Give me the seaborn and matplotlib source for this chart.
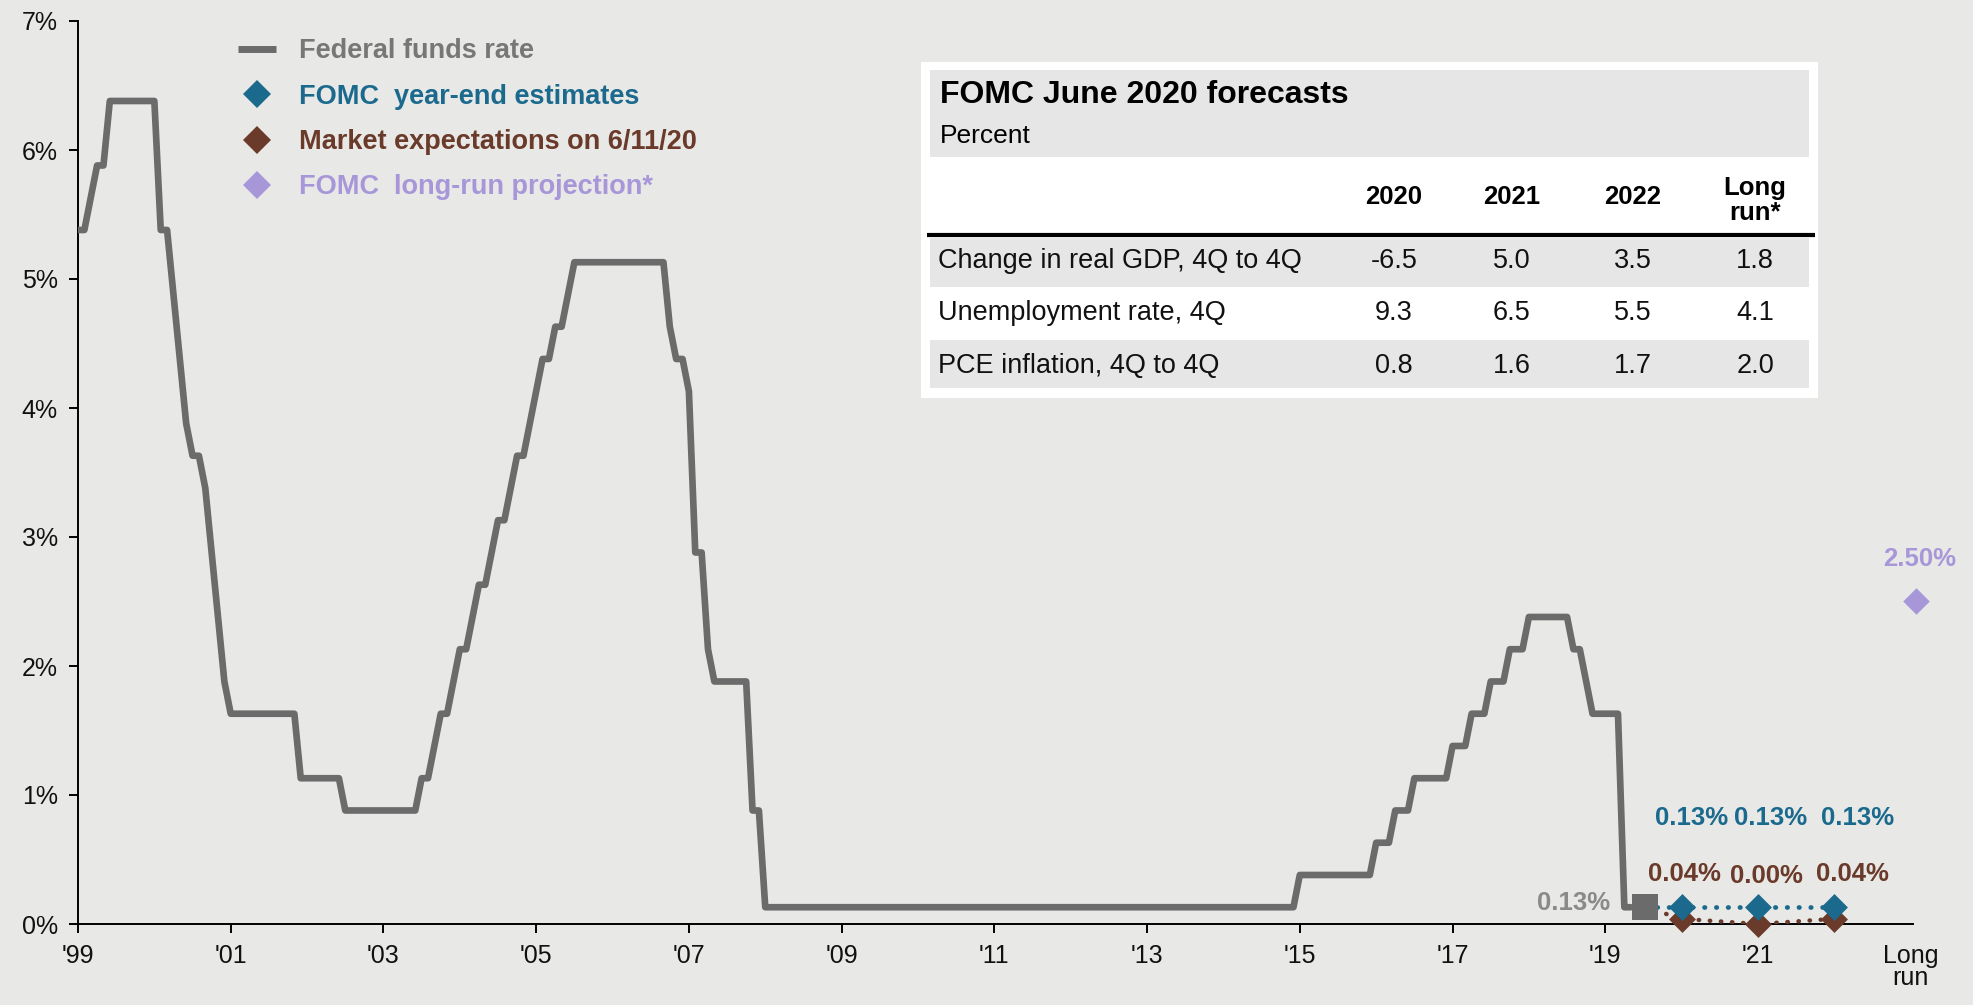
import numpy as np
import pandas as pd
import matplotlib
matplotlib.use("Agg")
import matplotlib.pyplot as plt
from matplotlib.lines import Line2D
from matplotlib.patches import Rectangle
import seaborn as sns

# ---------------- data ----------------
# Federal funds rate: month index on the chart axis (0 = Jan of '99 tick) where a new level starts
ffr_change_month = [0, 2, 3, 5, 13, 15, 16, 17, 18, 20, 21, 22, 23, 24, 35, 42,
                    54, 56, 57, 59, 60, 62, 63, 65, 66, 68, 69, 71, 72, 73, 75, 77, 78,
                    93, 94, 96, 97, 99, 100, 106, 108,
                    192, 204, 207, 210, 216, 219, 222, 225, 228, 235, 237, 238, 243]
ffr_level = [5.38, 5.63, 5.88, 6.38, 5.38, 4.88, 4.38, 3.88, 3.63, 3.38, 2.88, 2.38, 1.88, 1.63, 1.13, 0.88,
             1.13, 1.38, 1.63, 1.88, 2.13, 2.38, 2.63, 2.88, 3.13, 3.38, 3.63, 3.88, 4.13, 4.38, 4.63, 4.88, 5.13,
             4.63, 4.38, 4.13, 2.88, 2.13, 1.88, 0.88, 0.13,
             0.38, 0.63, 0.88, 1.13, 1.38, 1.63, 1.88, 2.13, 2.38, 2.13, 1.88, 1.63, 0.13]
ffr_end_month = 245

current_x = 2019.52
current_rate = 0.13
proj_years = [2020.0, 2021.0, 2022.0]
fomc_estimates = [0.13, 0.13, 0.13]
market_expect = [0.04, 0.00, 0.04]
longrun_x = 2023.07
longrun_value = 2.50

fomc_labels = ["0.13%", "0.13%", "0.13%"]
market_labels = ["0.04%", "0.00%", "0.04%"]
current_label = "0.13%"
longrun_label = "2.50%"

xtick_years = [1999, 2001, 2003, 2005, 2007, 2009, 2011, 2013, 2015, 2017, 2019, 2021, 2023]
xtick_labels = ["'99", "'01", "'03", "'05", "'07", "'09", "'11", "'13", "'15", "'17", "'19", "'21", "Long\nrun"]
ytick_values = [0, 1, 2, 3, 4, 5, 6, 7]
ytick_labels = ["0%", "1%", "2%", "3%", "4%", "5%", "6%", "7%"]

legend_labels = ["Federal funds rate", "FOMC  year-end estimates",
                 "Market expectations on 6/11/20", "FOMC  long-run projection*"]

table_title = "FOMC June 2020 forecasts"
table_subtitle = "Percent"
table_columns = ["2020", "2021", "2022", "Long\nrun*"]
table_rows = ["Change in real GDP, 4Q to 4Q", "Unemployment rate, 4Q", "PCE inflation, 4Q to 4Q"]
table_values = [["-6.5", "5.0", "3.5", "1.8"],
                ["9.3", "6.5", "5.5", "4.1"],
                ["0.8", "1.6", "1.7", "2.0"]]

# ---------------- style ----------------
BG = "#e8e8e6"
GRAY = "#6b6b6b"
BLUE = "#1b6a8e"
BROWN = "#6a3a2a"
LAV = "#a797d9"
LBL_GRAY = "#8a8a8a"

sns.set_theme(style="white")
plt.rcParams["font.family"] = ["Liberation Sans", "DejaVu Sans"]

W, H = 1974, 1005
fig = plt.figure(figsize=(W / 100, H / 100), dpi=100, facecolor=BG)
ax = fig.add_axes([78 / W, 1 - 924 / H, (1913 - 78) / W, (924 - 21) / H])
ax.set_facecolor(BG)

# build step path for the funds rate
xs, ys = [], []
for i, (m, lv) in enumerate(zip(ffr_change_month, ffr_level)):
    nxt = ffr_change_month[i + 1] if i + 1 < len(ffr_change_month) else ffr_end_month
    xs += [1999 + m / 12, 1999 + (nxt - 1) / 12]
    ys += [lv, lv]
ffr_df = pd.DataFrame({"x": xs, "y": ys})
sns.lineplot(data=ffr_df, x="x", y="y", ax=ax, color=GRAY, linewidth=4.8,
             estimator=None, sort=False, solid_joinstyle="round", zorder=3)

# dotted connectors
dots = (0, (0.1, 2.4))
sns.lineplot(x=[current_x] + proj_years, y=[current_rate] + market_expect, ax=ax, color=BROWN,
             linewidth=3.2, linestyle=dots, dash_capstyle="round", estimator=None, sort=False, zorder=4)
sns.lineplot(x=[current_x] + proj_years, y=[current_rate] + fomc_estimates, ax=ax, color=BLUE,
             linewidth=3.4, linestyle=dots, dash_capstyle="round", estimator=None, sort=False, zorder=5)

# markers
ms = 13.7
sns.scatterplot(x=proj_years, y=market_expect, ax=ax, marker="D", s=ms ** 2, color=BROWN,
                linewidth=0, zorder=6, clip_on=False)
sns.scatterplot(x=proj_years, y=fomc_estimates, ax=ax, marker="D", s=ms ** 2, color=BLUE,
                linewidth=0, zorder=7, clip_on=False)
sns.scatterplot(x=[current_x], y=[current_rate], ax=ax, marker="s", s=18.5 ** 2, color=GRAY,
                linewidth=0, zorder=6, clip_on=False)
sns.scatterplot(x=[longrun_x], y=[longrun_value], ax=ax, marker="D", s=13.5 ** 2, color=LAV,
                linewidth=0, zorder=6, clip_on=False)

# value labels
px = 0.72  # points per pixel
lbl_font = dict(fontsize=18.5, fontweight="bold", ha="center", va="center")
fomc_off = [(10, 89), (13, 89), (23, 89)]
mkt_off = [(3, 45), (8, 48), (18, 45)]
for x, y, t, (dx, dy) in zip(proj_years, fomc_estimates, fomc_labels, fomc_off):
    ax.annotate(t, (x, y), xytext=(dx * px, dy * px), textcoords="offset points",
                color=BLUE, annotation_clip=False, **lbl_font)
for x, y, t, (dx, dy) in zip(proj_years, market_expect, market_labels, mkt_off):
    ax.annotate(t, (x, y), xytext=(dx * px, dy * px), textcoords="offset points",
                color=BROWN, annotation_clip=False, **lbl_font)
ax.annotate(current_label, (current_x, current_rate), xytext=(-35 * px, 4 * px),
            textcoords="offset points", color=LBL_GRAY, fontsize=18.5, fontweight="bold",
            ha="right", va="center", annotation_clip=False)
ax.annotate(longrun_label, (longrun_x, longrun_value), xytext=(4 * px, 43 * px),
            textcoords="offset points", color=LAV, annotation_clip=False, **lbl_font)

# axes
ax.set_xlim(1999, 2023.03)
ax.set_ylim(0, 7)
ax.set_xticks(xtick_years)
ax.set_xticklabels(xtick_labels, linespacing=0.9)
ax.set_yticks(ytick_values)
ax.set_yticklabels(ytick_labels)
ax.set_xlabel("")
ax.set_ylabel("")
for s in ["top", "right"]:
    ax.spines[s].set_visible(False)
for s in ["left", "bottom"]:
    ax.spines[s].set_color("black")
    ax.spines[s].set_linewidth(1.4)
ax.tick_params(axis="both", direction="out", length=6.5, width=1.4, color="black",
               labelsize=18, labelcolor="#111111", pad=8, bottom=True, left=True)
ax.xaxis.get_major_ticks()[-1].tick1line.set_visible(False)
ax.grid(False)

# legend
handles = [Line2D([], [], color=GRAY, linewidth=5, solid_capstyle="butt"),
           Line2D([], [], marker="D", color=BLUE, ls="none", markersize=14.5, markeredgewidth=0),
           Line2D([], [], marker="D", color=BROWN, ls="none", markersize=14.5, markeredgewidth=0),
           Line2D([], [], marker="D", color=LAV, ls="none", markersize=14.5, markeredgewidth=0)]
leg = ax.legend(handles, legend_labels, loc="upper left",
                bbox_to_anchor=(238 / W, 1 - 38 / H), bbox_transform=fig.transFigure,
                frameon=False, prop={"family": "Liberation Sans", "weight": "bold", "size": 19.5},
                handlelength=1.4, handletextpad=0.85, labelspacing=0.72,
                borderpad=0, borderaxespad=0)
for txt, c in zip(leg.get_texts(), ["#777777", BLUE, BROWN, LAV]):
    txt.set_color(c)

# ---------------- table (pixel overlay) ----------------
ov = fig.add_axes([0, 0, 1, 1], zorder=10)
ov.set_xlim(0, W)
ov.set_ylim(H, 0)
ov.axis("off")
ov.patch.set_alpha(0)

TGRAY = "#e6e6e6"
ov.add_patch(Rectangle((921, 62), 1818 - 921, 398 - 62, color="white", lw=0))
ov.add_patch(Rectangle((930, 70), 1809 - 930, 157 - 70, color=TGRAY, lw=0))
row_bands = [(238, 287, TGRAY), (287, 339, "white"), (340, 388, TGRAY)]
for y0, y1, c in row_bands:
    ov.add_patch(Rectangle((930, y0), 1809 - 930, y1 - y0, color=c, lw=0))
ov.plot([927, 1815], [234.5, 234.5], color="black", linewidth=3.0, solid_capstyle="butt")

ov.text(940, 103, table_title, fontsize=23, fontweight="bold", color="black", va="baseline")
ov.text(940, 143, table_subtitle, fontsize=19, color="black", va="baseline")

col_x = [1394, 1512, 1633, 1755]
for cx, lab in zip(col_x, table_columns):
    if "\n" in lab:
        ov.text(cx, 220, lab, fontsize=18.5, fontweight="bold", color="black", ha="center",
                va="baseline", linespacing=1.05, multialignment="center")
    else:
        ov.text(cx, 204, lab, fontsize=18.5, fontweight="bold", color="black", ha="center", va="baseline")

row_base = [268, 320, 373]
for yb, rl, vals in zip(row_base, table_rows, table_values):
    ov.text(938, yb, rl, fontsize=19.5, color="#111111", va="baseline")
    for cx, v in zip(col_x, vals):
        ov.text(cx, yb, v, fontsize=19.5, color="#111111", ha="center", va="baseline")

fig.savefig("out.png", dpi=100, facecolor=BG)
